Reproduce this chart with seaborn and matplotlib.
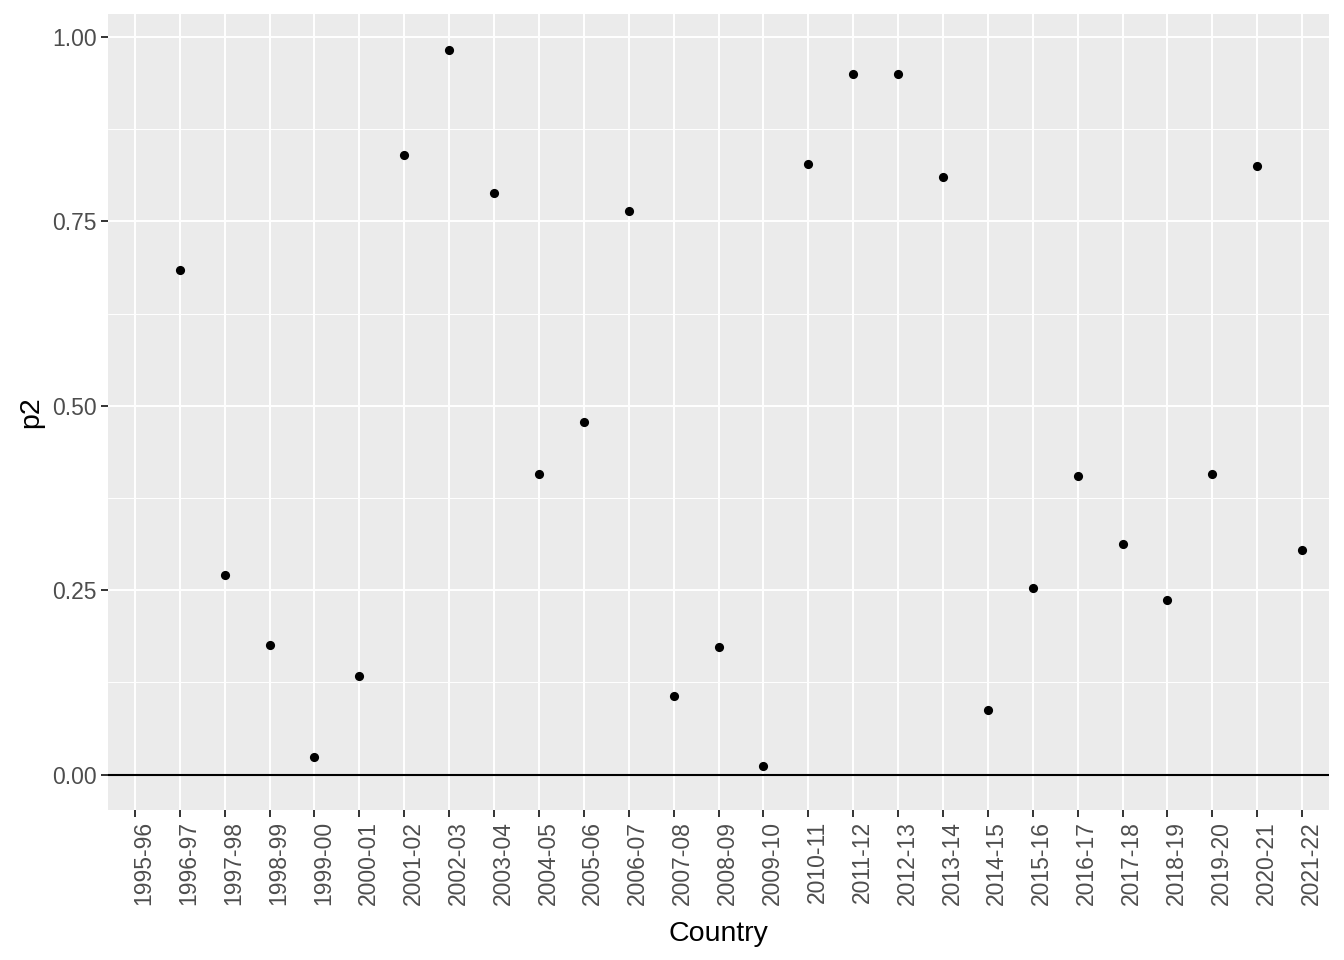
import numpy as np
import pandas as pd
import matplotlib
matplotlib.use("Agg")
import matplotlib.pyplot as plt
import matplotlib.transforms as mtransforms
import seaborn as sns
from matplotlib.ticker import MultipleLocator

seasons = ["1995-96", "1996-97", "1997-98", "1998-99", "1999-00", "2000-01",
           "2001-02", "2002-03", "2003-04", "2004-05", "2005-06", "2006-07",
           "2007-08", "2008-09", "2009-10", "2010-11", "2011-12", "2012-13",
           "2013-14", "2014-15", "2015-16", "2016-17", "2017-18", "2018-19",
           "2019-20", "2020-21", "2021-22"]
p2 = [np.nan, 0.684, 0.271, 0.176, 0.024, 0.133,
      0.840, 0.982, 0.789, 0.407, 0.478, 0.764,
      0.106, 0.173, 0.012, 0.828, 0.949, 0.949,
      0.810, 0.087, 0.253, 0.405, 0.313, 0.237,
      0.407, 0.825, 0.304]

df = pd.DataFrame({"Country": seasons, "p2": p2})

sns.set_theme(style="darkgrid")
plt.rcParams["font.family"] = ["Liberation Sans", "DejaVu Sans"]

fig = plt.figure(figsize=(13.44, 9.6), dpi=100)
ax = fig.add_axes([108/1344, 150/960, (1329-108)/1344, (810-14)/960])
ax.set_facecolor("#EBEBEB")

ax.axhline(0, color="black", lw=1.5, zorder=3)
sns.stripplot(data=df.dropna(), x="Country", y="p2", order=seasons, jitter=False,
              color="black", size=6.6, ax=ax, zorder=4)

ax.set_xlim(-0.6, 26.6)
ax.set_ylim(-0.048, 1.031)
ax.yaxis.set_minor_locator(MultipleLocator(0.125))
ax.set_yticks([0, 0.25, 0.5, 0.75, 1.0])
ax.set_yticklabels(["0.00", "0.25", "0.50", "0.75", "1.00"])

ax.grid(which="major", color="white", lw=1.4)
ax.grid(which="minor", axis="y", color="white", lw=0.7)
ax.grid(which="minor", axis="x", visible=False)
ax.set_axisbelow(True)
for s in ax.spines.values():
    s.set_visible(False)

ax.tick_params(axis="both", which="major", length=5, width=1.4, color="#333333",
               labelcolor="#4D4D4D", labelsize=16.5, pad=3, bottom=True, left=True)
ax.tick_params(axis="both", which="minor", length=0, bottom=False, left=False)
ax.tick_params(axis="x", labelrotation=90)

offset = mtransforms.ScaledTranslation(9/100, 0, fig.dpi_scale_trans)
for lab in ax.get_xticklabels():
    lab.set_transform(lab.get_transform() + offset)

ax.set_xlabel("Country", fontsize=20.5, color="black", labelpad=11)
ax.set_ylabel("p2", fontsize=20.5, color="black", labelpad=6)

fig.savefig("out.png", dpi=100, facecolor="white")
